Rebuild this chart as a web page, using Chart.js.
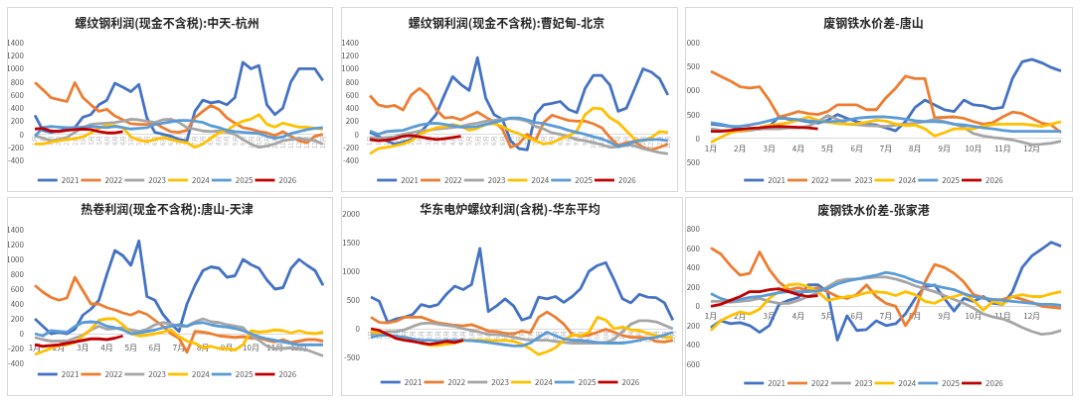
<!DOCTYPE html>
<html>
<head>
<meta charset="utf-8">
<script src="https://cdn.jsdelivr.net/npm/chart.js@4"></script>
<style>
  body { margin: 0; background: #fff; width: 1080px; height: 402px; overflow: hidden; position: relative; }
  canvas { position: absolute; border: 1px solid #d9d9d9; background: #fff; }
</style>
</head>
<body>
<canvas id="c1" width="326" height="185" style="left:7px;top:7px"></canvas>
<canvas id="c2" width="337" height="185" style="left:341px;top:7px"></canvas>
<canvas id="c3" width="388" height="185" style="left:685px;top:7px"></canvas>
<canvas id="c4" width="326" height="199" style="left:7px;top:197px"></canvas>
<canvas id="c5" width="342" height="199" style="left:341px;top:197px"></canvas>
<canvas id="c6" width="388" height="199" style="left:685px;top:197px"></canvas>
<script>
// x labels: three points a month, last one = 31 Dec
const denseTicks = ['1月','1月','1月','2月','2月','2月','3月','3月','3月','4月','4月','4月','5月','5月','5月','6月','6月','6月',
  '7月','7月','7月','8月','8月','8月','9月','9月','9月','10月','10月','10月','11月','11月','11月','12月','12月','12月','12月'];
const monthTicks = ['1月','','','2月','','','3月','','','4月','','','5月','','','6月','','',
  '7月','','','8月','','','9月','','','10月','','','11月','','','12月','','',''];

const years = ['2021','2022','2023','2024','2025','2026'];
const colors = ['#4472C4','#ED7D31','#A5A5A5','#FFC000','#5B9BD5','#C00000'];

// 螺纹钢利润(现金不含税):中天-杭州
const zt2021 = [290,60,30,50,80,100,260,300,450,520,780,720,650,760,250,30,0,-30,-80,-100,350,520,480,500,450,560,1100,1000,1050,450,300,400,800,1000,1000,1000,820];
const zt2022 = [790,680,560,530,500,790,560,450,350,380,280,220,160,150,150,170,100,40,30,60,250,350,440,380,250,170,100,80,40,20,-20,40,-30,-100,-130,-30,0];
const zt2023 = [-20,-60,-100,-80,-50,30,100,150,160,170,180,200,230,220,200,180,220,230,180,100,80,50,40,50,30,0,-80,-150,-200,-180,-150,-100,-80,-60,-80,-100,-150];
const zt2024 = [-150,-150,-120,-100,-80,-70,-40,20,90,140,130,100,-40,-90,-110,-80,-50,-80,-110,-130,-200,-150,-60,20,60,140,200,230,300,150,110,170,140,110,110,90,80];
const zt2025 = [-30,100,120,110,100,100,110,120,110,100,120,100,80,90,100,150,170,190,210,210,200,180,130,100,60,40,30,20,10,-30,-60,-40,10,40,70,90,100];
const zt2026 = [80,90,50,40,60,70,80,70,40,20,20,40];

// 螺纹钢利润(现金不含税):曹妃甸-北京
const cb2021 = [30,-30,-100,-150,-120,-80,20,150,300,600,880,760,670,1170,550,300,230,-100,-220,-240,300,450,470,500,380,330,700,900,900,750,350,400,700,1000,950,850,600];
const cb2022 = [590,450,420,440,370,600,700,600,380,250,260,220,280,340,260,190,80,-200,-150,0,-100,180,290,250,210,200,200,160,100,-50,-170,-130,-110,-200,-240,-200,-150];
const cb2023 = [-50,-60,-50,-40,0,20,50,60,80,90,100,120,150,170,200,210,230,240,230,200,120,80,20,0,-40,-80,-100,-130,-160,-200,-190,-160,-180,-220,-250,-280,-300];
const cb2024 = [-300,-220,-200,-180,-150,-100,0,50,100,110,150,120,60,90,150,160,120,50,10,-50,-100,-150,-130,-70,-30,50,300,400,390,250,180,50,-80,-100,-50,40,30];
const cb2025 = [50,0,40,50,60,100,140,160,170,150,130,110,110,120,150,180,210,250,250,220,180,160,130,100,60,30,0,-40,-70,-120,-190,-160,-110,-90,-80,-80,-100];
const cb2026 = [-80,-100,-90,-70,-30,-20,-40,-60,-80,-70,-50,-30];

// 废钢铁水价差-唐山
const ts2021 = [300,280,250,200,180,200,250,450,400,380,350,320,380,500,420,350,300,280,220,160,350,650,800,700,600,560,800,700,680,620,650,1250,1600,1650,1580,1480,1410];
const ts2022 = [1400,1300,1200,1080,1050,1080,800,450,500,560,520,500,560,700,700,700,600,600,850,1050,1300,1250,1250,430,440,450,420,350,300,330,450,550,520,420,320,280,120];
const ts2023 = [200,170,150,150,170,200,200,200,220,220,250,350,480,400,300,290,270,260,250,280,300,320,350,400,350,300,230,100,50,20,0,-30,-80,-130,-120,-100,-60];
const ts2024 = [-80,20,120,160,200,230,270,300,330,380,450,380,340,310,300,310,340,380,360,300,270,280,200,50,120,200,200,200,260,290,300,300,300,280,250,300,350];
const ts2025 = [330,300,250,250,280,320,370,420,410,390,370,350,350,360,380,420,440,450,450,430,400,370,350,350,340,300,280,250,220,200,170,150,150,150,150,150,150];
const ts2026 = [150,150,170,190,210,220,240,250,240,230,220,200];

// 热卷利润(现金不含税):唐山-天津
const rj2021 = [200,100,0,20,0,60,250,330,450,800,1120,1050,920,1250,500,450,260,130,30,400,650,850,900,880,760,780,1000,930,880,720,600,620,880,1000,920,850,650];
const rj2022 = [650,560,490,450,480,760,580,400,400,350,320,280,250,300,260,180,100,0,-60,-250,30,20,0,-30,-40,-50,-40,-60,-60,-90,-110,-80,-120,-100,-80,-80,-100];
const rj2023 = [-50,-80,-100,-100,-100,-60,-20,50,100,60,70,80,50,30,60,120,150,130,100,100,160,200,160,150,120,100,80,-30,-90,-170,-200,-200,-190,-200,-220,-260,-300];
const rj2024 = [-280,-240,-200,-160,-150,-120,-30,60,180,200,200,120,0,-30,-20,0,20,50,-40,-100,-130,-190,-170,-200,-200,-220,-150,40,20,30,50,40,10,40,10,0,20];
const rj2025 = [0,-30,40,30,20,100,150,160,150,100,80,50,0,10,30,50,80,100,120,100,140,150,120,100,90,70,40,0,-40,-70,-90,-110,-130,-150,-150,-150,-150];
const rj2026 = [-150,-170,-160,-150,-130,-110,-90,-70,-70,-80,-60,-30];

// 华东电炉螺纹利润(含税)-华东平均
const hd2021 = [550,480,110,170,200,250,420,380,420,600,740,680,770,1400,300,400,520,400,150,200,550,520,560,460,560,700,1000,1100,1150,850,520,450,600,550,540,450,150];
const hd2022 = [200,110,100,130,200,200,200,150,100,80,60,50,70,20,-40,-50,-80,-90,-40,-70,200,290,200,80,-100,-130,-110,-60,-10,-60,-120,-150,-150,-160,-220,-230,-200];
const hd2023 = [-100,-70,-50,-50,-20,40,90,100,80,60,40,0,-30,-60,-100,-100,-120,-150,-180,-200,-200,-200,-220,-240,-250,-250,-250,-250,-240,-180,-50,80,140,140,120,60,0];
const hd2024 = [-50,-70,-100,-150,-180,-210,-250,-290,-290,-270,-250,-210,-200,-200,-200,-210,-200,-220,-270,-350,-450,-400,-330,-200,-110,-120,-60,200,150,0,30,-20,-30,-80,-120,-150,-150];
const hd2025 = [-150,-120,-110,-130,-150,-180,-200,-200,-210,-200,-200,-200,-210,-220,-240,-260,-280,-300,-300,-250,-150,-60,-120,-180,-200,-200,-220,-240,-250,-250,-250,-230,-200,-170,-150,-110,-60];
const hd2026 = [0,-30,-100,-170,-200,-220,-250,-270,-250,-220,-240,-200];

// 废钢铁水价差-张家港
const zjg2021 = [-220,-150,-180,-170,-200,-270,-200,20,60,90,220,220,150,-350,-100,-250,-240,-150,-200,-180,-80,80,200,220,80,-50,80,50,100,30,20,150,400,520,590,660,620];
const zjg2022 = [600,540,420,320,340,560,380,250,170,190,160,190,150,100,80,120,220,100,30,0,-200,-50,250,430,400,340,250,120,90,60,70,100,70,40,0,-10,-20];
const zjg2023 = [50,50,40,50,60,80,50,30,30,60,100,140,200,260,280,280,290,300,300,280,250,210,180,150,110,70,30,-20,-80,-110,-130,-170,-220,-260,-290,-280,-250];
const zjg2024 = [-250,-150,-100,-60,-80,-30,80,150,220,230,200,150,60,80,100,110,140,150,140,110,150,120,50,30,80,100,130,60,-40,50,20,100,120,100,100,130,150];
const zjg2025 = [130,80,50,70,90,100,120,140,150,150,150,160,180,230,260,280,300,320,350,330,300,260,230,210,190,170,130,100,80,70,60,50,40,30,20,20,10];
const zjg2026 = [0,20,60,100,150,150,170,180,150,120,100,110];

Chart.defaults.font.family = "'Noto Sans CJK SC', 'Noto Sans', sans-serif";

const panels = [
  { id: 'c1', title: '螺纹钢利润(现金不含税):中天-杭州', series: [zt2021, zt2022, zt2023, zt2024, zt2025, zt2026],
    min: -400, max: 1400, step: 200, dense: true, xPad: 2, yW: 27, padR: 6, padB: -3, tTop: 8, tBot: 12.6, lTop: 13 },
  { id: 'c2', title: '螺纹钢利润(现金不含税):曹妃甸-北京', series: [cb2021, cb2022, cb2023, cb2024, cb2025, cb2026],
    min: -400, max: 1400, step: 200, dense: true, xPad: 2, yW: 28, padR: 6, padB: -3, tTop: 8, tBot: 12.6, lTop: 13 },
  { id: 'c3', title: '废钢铁水价差-唐山', series: [ts2021, ts2022, ts2023, ts2024, ts2025, ts2026],
    min: -500, max: 2000, step: 500, dense: false, xPad: 5, yW: 25, padR: 11, padB: -3, tTop: 7.8, tBot: 12.8, lTop: 11 },
  { id: 'c4', title: '热卷利润(现金不含税):唐山-天津', series: [rj2021, rj2022, rj2023, rj2024, rj2025, rj2026],
    min: -400, max: 1400, step: 200, dense: false, xPad: 9, yW: 27, padR: 6, padB: 7, tTop: 3.8, tBot: 13.8, lTop: 4 },
  { id: 'c5', title: '华东电炉螺纹利润(含税)-华东平均', series: [hd2021, hd2022, hd2023, hd2024, hd2025, hd2026],
    min: -500, max: 2000, step: 500, dense: true, xPad: 2, yW: 29, padR: 4, padB: -1, tTop: 3.8, tBot: -2.2, lTop: 18 },
  { id: 'c6', title: '废钢铁水价差-张家港', series: [zjg2021, zjg2022, zjg2023, zjg2024, zjg2025, zjg2026],
    min: -600, max: 800, step: 200, dense: false, xPad: 5, yW: 25, padR: 11, padB: -2, tTop: 4.8, tBot: 11.8, lTop: 12 }
];

panels.forEach(p => {
  new Chart(document.getElementById(p.id), {
    type: 'line',
    data: {
      labels: p.dense ? denseTicks : monthTicks,
      datasets: years.map((y, k) => ({
        label: y,
        data: p.series[k],
        borderColor: colors[k],
        backgroundColor: colors[k],
        borderWidth: 2.8,
        pointRadius: 0,
        tension: 0,
        borderJoinStyle: 'round',
        order: years.length - 1 - k
      }))
    },
    options: {
      responsive: false,
      animation: false,
      devicePixelRatio: 1,
      layout: { padding: { left: 0, right: p.padR, top: 0, bottom: p.padB } },
      plugins: {
        tooltip: { enabled: false },
        title: {
          display: true, text: p.title, color: '#262626',
          font: { size: 12, weight: 'bold', lineHeight: 1.2 },
          padding: { top: p.tTop, bottom: p.tBot }
        },
        legend: {
          position: 'bottom',
          title: { display: true, text: '', font: { size: 1, lineHeight: 1 }, padding: { top: p.lTop, bottom: 0 } },
          labels: {
            usePointStyle: true, pointStyle: 'line', pointStyleWidth: 20,
            padding: 2, color: '#595959', font: { size: 8 },
            sort: (a, b) => a.datasetIndex - b.datasetIndex
          }
        }
      },
      scales: {
        x: {
          position: { y: 0 },
          grid: { display: false, drawTicks: false },
          border: { color: '#d9d9d9' },
          ticks: p.dense
            ? { autoSkip: false, minRotation: 90, maxRotation: 90, font: { size: 6 }, color: '#b4b4b4', padding: p.xPad }
            : { autoSkip: false, minRotation: 0, maxRotation: 0, font: { size: 8 }, color: '#595959', padding: p.xPad },
          afterFit: s => { s.height = 0; }
        },
        y: {
          min: p.min, max: p.max,
          grid: { display: false },
          border: { display: false },
          ticks: { stepSize: p.step, font: { size: 8 }, color: '#595959', padding: 3, callback: v => String(v) },
          afterFit: s => { s.width = p.yW; }
        }
      }
    }
  });
});
</script>
</body>
</html>
